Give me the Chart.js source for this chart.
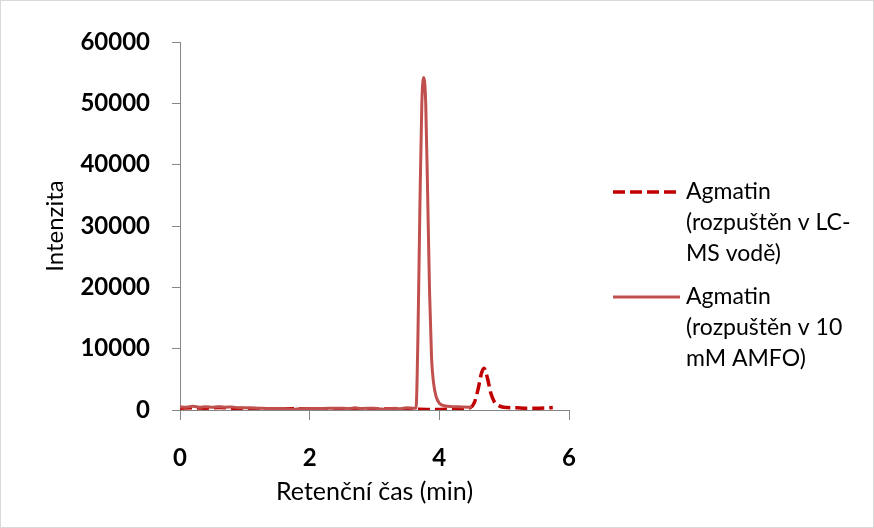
<!DOCTYPE html>
<html>
<head>
<meta charset="utf-8">
<script src="https://cdn.jsdelivr.net/npm/chart.js@4/dist/chart.umd.min.js"></script>
<style>
  html, body { margin: 0; padding: 0; background: #fff; }
  #wrap { width: 874px; height: 528px; position: relative; }
</style>
</head>
<body>
<div id="wrap"><canvas id="chromChart" width="874" height="528"></canvas></div>
<script>
// Agmatin chromatograms

const waterLabel = ["Agmatin", "(rozpuštěn v LC-", "MS vodě)"];
const amfoLabel = ["Agmatin", "(rozpuštěn v 10", "mM AMFO)"];

// retention time (min) / intensity, sample dissolved in LC-MS water (dashed)
const waterTime = [0, 0.2, 0.4, 0.6, 0.8, 1.0, 1.3, 1.6, 2.0, 2.4,
  2.8, 3.2, 3.6, 3.8, 4.0, 4.2, 4.4, 4.48, 4.54, 4.6,
  4.65, 4.69, 4.74, 4.79, 4.85, 4.9, 4.97, 5.05, 5.2, 5.35,
  5.5, 5.65, 5.75];
const waterInt = [300, 350, 300, 400, 300, 250, 200, 200, 200, 200,
  200, 150, 150, 100, 100, 150, 250, 400, 1200, 3500,
  6000, 6800, 5300, 2900, 1300, 800, 500, 400, 350, 300,
  300, 350, 400];

// sample dissolved in 10 mM AMFO (solid)
const amfoTime = [0, 0.1, 0.2, 0.3, 0.4, 0.5, 0.6, 0.7, 0.8, 0.9,
  1.0, 1.2, 1.4, 1.6, 1.75, 1.85, 2.0, 2.2, 2.4, 2.6,
  2.7, 2.8, 3.0, 3.1, 3.2, 3.3, 3.4, 3.5, 3.6, 3.64,
  3.67, 3.70, 3.73, 3.76, 3.79, 3.82, 3.85, 3.88, 3.91, 3.95,
  4.0, 4.08, 4.2, 4.35, 4.5];
const amfoInt = [500, 450, 600, 450, 550, 450, 550, 450, 500, 350,
  350, 300, 250, 250, 100, 200, 250, 250, 300, 250,
  350, 250, 300, 150, 100, 300, 200, 350, 300, 300,
  12000, 33000, 50000, 54200, 50000, 35000, 19000, 8500, 4500, 2200,
  1100, 700, 550, 500, 450];

const xTicks = [0, 2, 4, 6];
const yTicks = [0, 10000, 20000, 30000, 40000, 50000, 60000];

const WATER_COLOR = "#C00000";
const AMFO_COLOR = "#C0504D";
const AXIS_COLOR = "#868686";
const FONT = "Lato, 'Liberation Sans', sans-serif";

function toPoints(xs, ys) {
  return xs.map((x, i) => ({ x, y: ys[i] }));
}

// legend with wrapped labels, drawn like the original on the right side
const sideLegend = {
  id: "sideLegend",
  afterDraw(chart) {
    const ctx = chart.ctx;
    const entries = [
      { lines: waterLabel, color: WATER_COLOR, dash: [12, 5], width: 3.5, y: 192 },
      { lines: amfoLabel, color: AMFO_COLOR, dash: [], width: 3, y: 297 }
    ];
    ctx.save();
    entries.forEach((e) => {
      ctx.beginPath();
      ctx.setLineDash(e.dash);
      ctx.strokeStyle = e.color;
      ctx.lineWidth = e.width;
      ctx.moveTo(613, e.y);
      ctx.lineTo(680, e.y);
      ctx.stroke();
      ctx.setLineDash([]);
      ctx.fillStyle = "#000";
      ctx.font = "23px " + FONT;
      ctx.textAlign = "left";
      ctx.textBaseline = "middle";
      e.lines.forEach((t, i) => ctx.fillText(t, 686, e.y + i * 31));
    });
    // outer chart border
    ctx.strokeStyle = "#d9d9d9";
    ctx.lineWidth = 1;
    ctx.strokeRect(0.5, 0.5, chart.width - 1, chart.height - 1);
    ctx.restore();
  }
};

const ctx = document.getElementById("chromChart").getContext("2d");
new Chart(ctx, {
  type: "line",
  data: {
    datasets: [
      {
        label: waterLabel.join(" "),
        data: toPoints(waterTime, waterInt),
        borderColor: WATER_COLOR,
        borderWidth: 3.5,
        borderDash: [12, 5],
        pointRadius: 0,
        cubicInterpolationMode: "monotone",
        order: 1
      },
      {
        label: amfoLabel.join(" "),
        data: toPoints(amfoTime, amfoInt),
        borderColor: AMFO_COLOR,
        borderWidth: 3,
        pointRadius: 0,
        cubicInterpolationMode: "monotone",
        order: 0
      }
    ]
  },
  options: {
    responsive: false,
    animation: false,
    layout: { padding: { left: 0, top: 42, right: 305, bottom: 0 } },
    plugins: {
      legend: { display: false },
      tooltip: { enabled: false }
    },
    scales: {
      x: {
        type: "linear",
        min: 0,
        max: 6,
        afterBuildTicks: (scale) => { scale.ticks = xTicks.map((v) => ({ value: v })); },
        afterFit: (scale) => { scale.height = 118; },
        border: { display: true, color: AXIS_COLOR, width: 1 },
        grid: { display: true, drawOnChartArea: false, drawTicks: true, tickLength: 10, color: AXIS_COLOR },
        ticks: { color: "#000", padding: 24, font: { family: FONT, size: 24, weight: "bold" } },
        title: {
          display: true,
          text: "Retenční čas (min)",
          color: "#000",
          font: { family: FONT, size: 25 },
          padding: { top: 0, bottom: 21 }
        }
      },
      y: {
        type: "linear",
        min: 0,
        max: 60000,
        afterBuildTicks: (scale) => { scale.ticks = yTicks.map((v) => ({ value: v })); },
        afterFit: (scale) => { scale.width = 180; },
        border: { display: true, color: AXIS_COLOR, width: 1 },
        grid: { display: true, drawOnChartArea: false, drawTicks: true, tickLength: 8, color: AXIS_COLOR },
        ticks: {
          color: "#000",
          padding: 22,
          font: { family: FONT, size: 24, weight: "bold" },
          callback: (v) => String(v)
        },
        title: {
          display: true,
          text: "Intenzita",
          color: "#000",
          font: { family: FONT, size: 24 },
          padding: { top: 41, bottom: 0 }
        }
      }
    }
  },
  plugins: [sideLegend]
});
</script>
</body>
</html>
